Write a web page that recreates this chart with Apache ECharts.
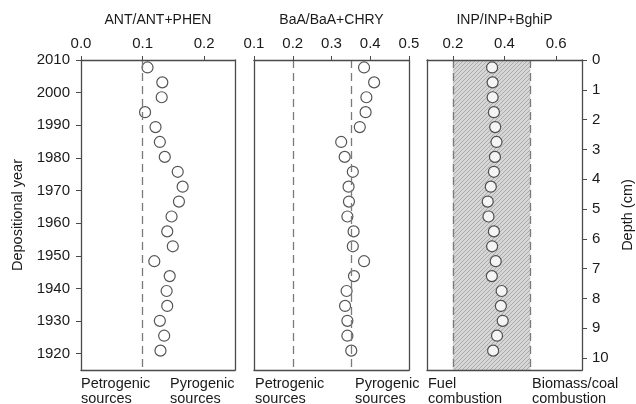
<!DOCTYPE html>
<html>
<head>
<meta charset="utf-8">
<script src="https://cdn.jsdelivr.net/npm/echarts@6/dist/echarts.min.js"></script>
<style>
html,body{margin:0;padding:0;background:#fff;}
#c{width:636px;height:404px;}
</style>
</head>
<body>
<div id="c"></div>
<script>
// ---- data ----
const depthCm = [0.25,0.75,1.25,1.75,2.25,2.75,3.25,3.75,4.25,4.75,5.25,5.75,6.25,6.75,7.25,7.75,8.25,8.75,9.25,9.75];
const antRatio = [0.108,0.132,0.131,0.104,0.121,0.128,0.136,0.157,0.165,0.159,0.147,0.140,0.149,0.119,0.144,0.139,0.140,0.128,0.135,0.129];
const baaRatio = [0.384,0.410,0.390,0.388,0.373,0.325,0.334,0.355,0.344,0.345,0.341,0.357,0.355,0.384,0.358,0.339,0.335,0.341,0.341,0.351];
const inpRatio = [0.352,0.354,0.354,0.359,0.364,0.369,0.363,0.359,0.347,0.335,0.338,0.359,0.352,0.366,0.351,0.389,0.386,0.393,0.371,0.356];
const yearTicks = [1920,1930,1940,1950,1960,1970,1980,1990,2000,2010];
const depthTicks = [0,1,2,3,4,5,6,7,8,9,10];
const antTicks = [0,0.1,0.2];
const baaTicks = [0.1,0.2,0.3,0.4,0.5];
const inpTicks = [0.2,0.4,0.6];
const antThreshold = [0.1];
const baaThresholds = [0.2,0.35];
const inpBand = [0.2,0.5];
const panelTitles = ['ANT/ANT+PHEN','BaA/BaA+CHRY','INP/INP+BghiP'];

const FONT = '"Liberation Sans", Arial, Helvetica, sans-serif';
const AX = '#4a4a4a';
const TXT = '#1a1a1a';

// hatch pattern
const pc = document.createElement('canvas');
pc.width = 4; pc.height = 4;
const g = pc.getContext('2d');
g.fillStyle = '#d6d6d6'; g.fillRect(0,0,4,4);
g.strokeStyle = '#acacac'; g.lineWidth = 1;
g.beginPath();
g.moveTo(0,4); g.lineTo(4,0);
g.moveTo(-1,1); g.lineTo(1,-1);
g.moveTo(3,5); g.lineTo(5,3);
g.stroke();

const grids = [
  {left:81, top:60, width:154, height:310},
  {left:254, top:60, width:155, height:310},
  {left:427, top:60, width:155, height:310}
];
const xRanges = [[0,0.25],[0.1,0.5],[0.1,0.7]];
const xTicks = [antTicks, baaTicks, inpTicks];

const xAxis = [];
const yAxis = [];
for (let i = 0; i < 3; i++) {
  xAxis.push({
    type:'value', gridIndex:i, position:'top', min:xRanges[i][0], max:xRanges[i][1], z:10,
    name: panelTitles[i], nameLocation:'middle', nameGap:33,
    nameTextStyle:{fontFamily:FONT, fontSize:14, color:TXT},
    axisLine:{show:true, onZero:false, lineStyle:{color:AX, width:1.3}},
    axisTick:{show:true, inside:false, length:4, customValues:xTicks[i], lineStyle:{color:AX, width:1}},
    axisLabel:{show:true, margin:9, customValues:xTicks[i], fontFamily:FONT, fontSize:15, color:TXT,
      formatter:v=>v.toFixed(1)},
    splitLine:{show:false}
  });
  xAxis.push({
    type:'value', gridIndex:i, position:'bottom', min:xRanges[i][0], max:xRanges[i][1], z:10,
    axisLine:{show:true, onZero:false, lineStyle:{color:AX, width:1.3}},
    axisTick:{show:false}, axisLabel:{show:false}, splitLine:{show:false}
  });
  yAxis.push(i === 0 ? {
    type:'value', gridIndex:i, position:'left', min:1915, max:2010, z:10,
    name:'Depositional year', nameLocation:'middle', nameGap:56, nameRotate:90,
    nameTextStyle:{fontFamily:FONT, fontSize:14.5, color:TXT},
    axisLine:{show:true, onZero:false, lineStyle:{color:AX, width:1.3}},
    axisTick:{show:true, length:5, customValues:yearTicks, lineStyle:{color:AX, width:1}},
    axisLabel:{show:true, margin:11, customValues:yearTicks, fontFamily:FONT, fontSize:15, color:TXT,
      formatter:v=>String(Math.round(v))},
    splitLine:{show:false}
  } : {
    type:'value', gridIndex:i, position:'left', min:0, max:10.4, inverse:true, z:10,
    axisLine:{show:true, onZero:false, lineStyle:{color:AX, width:1.3}},
    axisTick:{show:false}, axisLabel:{show:false}, splitLine:{show:false}
  });
  yAxis.push(i === 2 ? {
    type:'value', gridIndex:i, position:'right', min:0, max:10.4, inverse:true, z:10,
    name:'Depth (cm)', nameLocation:'middle', nameGap:38, nameRotate:90,
    nameTextStyle:{fontFamily:FONT, fontSize:14.5, color:TXT},
    axisLine:{show:true, onZero:false, lineStyle:{color:AX, width:1.3}},
    axisTick:{show:true, length:5, customValues:depthTicks, lineStyle:{color:AX, width:1}},
    axisLabel:{show:true, margin:10, customValues:depthTicks, fontFamily:FONT, fontSize:15, color:TXT},
    splitLine:{show:false}
  } : {
    type:'value', gridIndex:i, position:'right', min:0, max:10.4, inverse:true, z:10,
    axisLine:{show:true, onZero:false, lineStyle:{color:AX, width:1.3}},
    axisTick:{show:false}, axisLabel:{show:false}, splitLine:{show:false}
  });
}

const dashStyle = {color:'#7a7a7a', width:1.3, type:[8,5]};
function mkLines(vals){
  return {silent:true, symbol:'none', label:{show:false}, lineStyle:dashStyle,
    data: vals.map(v=>({xAxis:v}))};
}
const scatterStyle = {color:'#ffffff', borderColor:'#2a2a2a', borderWidth:1.2};
const ratios = [antRatio, baaRatio, inpRatio];
const series = ratios.map((arr, i) => {
  const s = {
    type:'scatter', xAxisIndex:i*2, yAxisIndex:i*2+1,
    symbol:'circle', symbolSize:11, itemStyle:scatterStyle,
    data: arr.map((v,k)=>[v, depthCm[k]]),
    z:3
  };
  if (i === 0) s.markLine = mkLines(antThreshold);
  if (i === 1) s.markLine = mkLines(baaThresholds);
  if (i === 2) {
    s.markLine = mkLines(inpBand);
    s.markArea = {silent:true, itemStyle:{color:{image:pc, repeat:'repeat'}},
      data:[[{xAxis:inpBand[0]},{xAxis:inpBand[1]}]]};
  }
  return s;
});

const bottomLabels = [
  {x:81, t:'Petrogenic\nsources'},
  {x:170, t:'Pyrogenic\nsources'},
  {x:255, t:'Petrogenic\nsources'},
  {x:355, t:'Pyrogenic\nsources'},
  {x:428, t:'Fuel\ncombustion'},
  {x:532, t:'Biomass/coal\ncombustion'}
];

const chart = echarts.init(document.getElementById('c'), null, {renderer:'canvas'});
chart.setOption({
  animation:false,
  backgroundColor:'#fff',
  grid: grids,
  xAxis: xAxis,
  yAxis: yAxis,
  series: series,
  graphic: bottomLabels.map(b=>({
    type:'text', left:b.x, top:376,
    style:{text:b.t, fontFamily:FONT, fontSize:14.5, lineHeight:15, fill:TXT}
  }))
});
</script>
</body>
</html>
